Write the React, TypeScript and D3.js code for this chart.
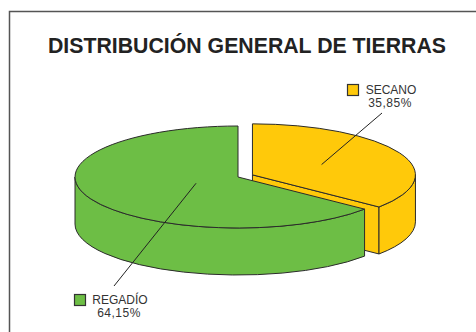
import React from "react";
import * as d3 from "d3";

const categories = ["SECANO", "REGADÍO"];
const values = [35.85, 64.15];
const valueLabels = ["35,85%", "64,15%"];
const colors = ["#FFC90A", "#6DBE45"];

const W = 476;
const H = 332;
const CX = 238;
const CY = 177;
const RX = 163;
const RY = 51;
const DEPTH = 47;
const EXPLODE = [16, 0];
const OUTLINE = "#2b2b2b";

type Pt = [number, number];

export default function App() {
  const pie = d3.pie<number>().sort(null).startAngle(0).endAngle(2 * Math.PI);
  const arcs = pie(values);

  const slices = arcs.map((a, i) => {
    const mid = (a.startAngle + a.endAngle) / 2;
    const ox = CX + EXPLODE[i] * Math.sin(mid);
    const oy = CY - EXPLODE[i] * Math.cos(mid) * (RY / RX);
    const rim = (ang: number, dz = 0, f = 1): Pt => [
      ox + f * RX * Math.sin(ang),
      oy - f * RY * Math.cos(ang) + dz,
    ];
    return { a, i, mid, ox, oy, rim };
  });

  const p = (pt: Pt) => `${pt[0].toFixed(2)},${pt[1].toFixed(2)}`;

  const renderSlice = (s: (typeof slices)[number]) => {
    const { a, i, ox, oy, rim } = s;
    const s0 = a.startAngle;
    const s1 = a.endAngle;
    const large = s1 - s0 > Math.PI ? 1 : 0;
    const els: React.ReactNode[] = [];
    // radial cut face at the end angle, when it faces the viewer
    const faceEnd = Math.cos(s1 + Math.PI / 2) < 0;
    if (faceEnd && s1 < 2 * Math.PI - 1e-6) {
      const c: Pt = [ox, oy];
      const r = rim(s1);
      els.push(
        <path
          key="cutEnd"
          d={`M${p(c)}L${p(r)}L${p([r[0], r[1] + DEPTH])}L${p([c[0], c[1] + DEPTH])}Z`}
          fill={colors[i]}
          stroke={OUTLINE}
          strokeWidth={1}
          strokeLinejoin="round"
        />
      );
    }
    // outer wall: only the front half (PI/2 .. 3PI/2) is visible
    const v0 = Math.max(s0, Math.PI / 2);
    const v1 = Math.min(s1, (3 * Math.PI) / 2);
    if (v1 > v0) {
      const t0 = rim(v0);
      const t1 = rim(v1);
      els.push(
        <path
          key="wall"
          d={`M${p(t0)}A${RX},${RY} 0 0 1 ${p(t1)}L${p([t1[0], t1[1] + DEPTH])}A${RX},${RY} 0 0 0 ${p([t0[0], t0[1] + DEPTH])}Z`}
          fill={colors[i]}
          stroke={OUTLINE}
          strokeWidth={1}
          strokeLinejoin="round"
        />
      );
    }
    // top face
    els.push(
      <path
        key="top"
        d={`M${p([ox, oy])}L${p(rim(s0))}A${RX},${RY} 0 ${large} 1 ${p(rim(s1))}Z`}
        fill={colors[i]}
        stroke={OUTLINE}
        strokeWidth={1}
        strokeLinejoin="round"
      />
    );
    return <g key={categories[i]}>{els}</g>;
  };

  // label anchors (legend square + name + value) and leader line ends
  const labelPos: Pt[] = [
    [391, 94],
    [120, 304],
  ];
  const leaderEnd: Pt[] = [
    [382, 113],
    [114, 286],
  ];
  const leaderFrac = [0.47, 0.285];

  return (
    <svg
      width={W}
      height={H}
      style={{ position: "absolute", left: 0, top: 0, background: "#fff" }}
      fontFamily="'Liberation Sans', Arial, Helvetica, sans-serif"
    >
      <rect x={9.5} y={11.5} width={W + 20} height={H + 20} fill="#fff" stroke="#555" strokeWidth={1.5} />
      <text
        x={48}
        y={53}
        fontSize={22}
        fontWeight="bold"
        fill="#222"
        textLength={398}
        lengthAdjust="spacingAndGlyphs"
      >
        DISTRIBUCIÓN GENERAL DE TIERRAS
      </text>

      {slices.map(renderSlice)}

      {slices.map((s) => {
        const inner = s.rim(s.mid, 0, leaderFrac[s.i]);
        const end = leaderEnd[s.i];
        return (
          <line
            key={"leader" + s.i}
            x1={inner[0]}
            y1={inner[1]}
            x2={end[0]}
            y2={end[1]}
            stroke="#222"
            strokeWidth={1}
          />
        );
      })}

      {categories.map((c, i) => {
        const [lx, ly] = labelPos[i];
        const nameW = c === "SECANO" ? 52 : 56;
        const sx = lx - nameW / 2 - 18;
        return (
          <g key={"lab" + c}>
            <rect x={sx + 0.5} y={ly - 9.5} width={11} height={11} fill={colors[i]} stroke="#333" strokeWidth={1.2} />
            <text x={lx} y={ly} fontSize={12} textAnchor="middle" fill="#333">
              {c}
            </text>
            <text x={lx - 1} y={ly + 13} fontSize={12} textAnchor="middle" fill="#333" letterSpacing={0.5}>
              {valueLabels[i]}
            </text>
          </g>
        );
      })}
    </svg>
  );
}
